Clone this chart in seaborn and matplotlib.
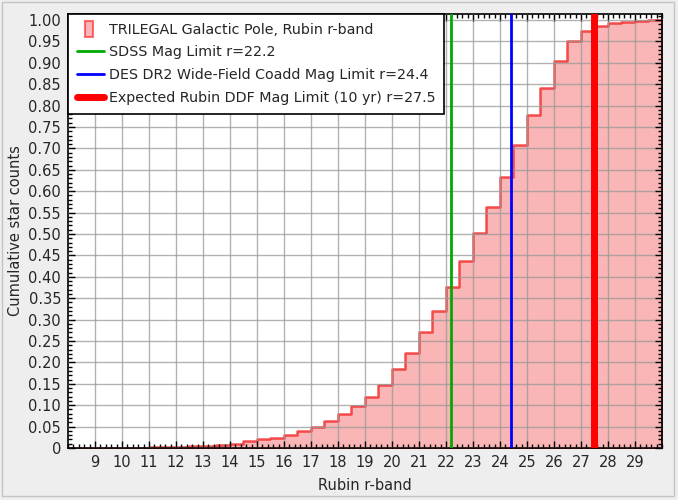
import numpy as np
import pandas as pd
import seaborn as sns
import matplotlib.pyplot as plt
from matplotlib.ticker import MultipleLocator, FuncFormatter
from matplotlib.patches import Patch, Rectangle
from matplotlib.lines import Line2D
from matplotlib.legend_handler import HandlerPatch

# bin edges of the r-band magnitude (0.5 mag bins) and cumulative fraction per bin
bin_left = np.arange(8.0, 30.0, 0.5)
cum_frac = [0.001, 0.001, 0.001, 0.001, 0.001, 0.001, 0.002, 0.002,
            0.003, 0.004, 0.005, 0.006, 0.009, 0.016, 0.020, 0.024,
            0.030, 0.040, 0.048, 0.063, 0.079, 0.099, 0.120, 0.148,
            0.184, 0.223, 0.270, 0.319, 0.375, 0.438, 0.502, 0.563,
            0.634, 0.708, 0.777, 0.842, 0.905, 0.952, 0.975, 0.986,
            0.992, 0.996, 0.998, 1.000]

mag_limits = [22.2, 24.4, 27.5]
limit_colors = ["#00aa00", "#0000ff", "#ff0000"]
limit_widths = [2, 2, 5]
labels = ["TRILEGAL Galactic Pole, Rubin r-band",
          "SDSS Mag Limit r=22.2",
          "DES DR2 Wide-Field Coadd Mag Limit r=24.4",
          "Expected Rubin DDF Mag Limit (10 yr) r=27.5"]

df = pd.DataFrame({"mag": bin_left + 0.25, "frac": cum_frac})

sns.set_theme(style="white")
plt.rcParams["font.family"] = ["DejaVu Sans"]

fig = plt.figure(figsize=(6.78, 5.0), dpi=100, facecolor="#eeeeee")
# light panel border like the app window
fig.patches.append(Rectangle((1.5 / 678, 4.0 / 500), 672.5 / 678, 494.5 / 500,
                             transform=fig.transFigure, fill=False,
                             edgecolor="#c4c4c4", linewidth=1))
ax = fig.add_axes([0.1003, 0.104, 0.876, 0.868])
ax.set_facecolor("white")

sns.histplot(data=df, x="mag", weights="frac", binwidth=0.5, binrange=(8, 30),
             element="step", fill=True, facecolor="#fab6b6",
             edgecolor=(0.95, 0.1, 0.1, 0.75), linewidth=1.8, alpha=1, ax=ax, zorder=1)

for m, c, w in zip(mag_limits, limit_colors, limit_widths):
    ax.axvline(m, color=c, linewidth=w, zorder=4)

ax.set_xlim(8, 30)
ax.set_ylim(0, 1.014)
ax.xaxis.set_major_locator(MultipleLocator(1))
ax.xaxis.set_minor_locator(MultipleLocator(0.2))
ax.yaxis.set_major_locator(MultipleLocator(0.05))
ax.yaxis.set_minor_locator(MultipleLocator(0.01))
ax.set_xticks(range(9, 30))
ax.yaxis.set_major_formatter(FuncFormatter(lambda v, p: "0" if abs(v) < 1e-9 else f"{v:.2f}"))

ax.set_axisbelow(False)
ax.grid(True, which="major", color="#999999", alpha=0.75, linewidth=1)
ax.tick_params(which="both", direction="in", top=True, right=True, left=True,
               bottom=True, color="black", labelsize=10.5, pad=5)
ax.tick_params(which="major", length=5, width=1)
ax.tick_params(which="minor", length=3, width=1)
for s in ax.spines.values():
    s.set_color("black")
    s.set_linewidth(1.2)

ax.set_xlabel("Rubin r-band", fontsize=10.5, labelpad=6)
ax.set_ylabel("Cumulative star counts", fontsize=10.5, labelpad=4)


def narrow_bar(legend, orig_handle, xdescent, ydescent, width, height, fontsize):
    return Rectangle((-xdescent + width * 0.3, -ydescent - 0.3 * height),
                     width * 0.3, height * 1.55)


handles = [Patch(facecolor="#fab6b6", edgecolor=(0.95, 0.1, 0.1, 0.6), linewidth=1.5)]
for c, w in zip(limit_colors, limit_widths):
    handles.append(Line2D([0], [0], color=c, linewidth=w))
leg = ax.legend(handles, labels, loc="upper left", fontsize=10.3, frameon=True,
                fancybox=False, edgecolor="black", framealpha=1,
                borderaxespad=0, handlelength=1.95, handletextpad=0.3,
                labelspacing=0.62, borderpad=0.6,
                handler_map={Patch: HandlerPatch(patch_func=narrow_bar)})
leg.get_frame().set_linewidth(1.2)
leg.set_zorder(10)

fig.savefig("out.png", dpi=100, facecolor=fig.get_facecolor())
